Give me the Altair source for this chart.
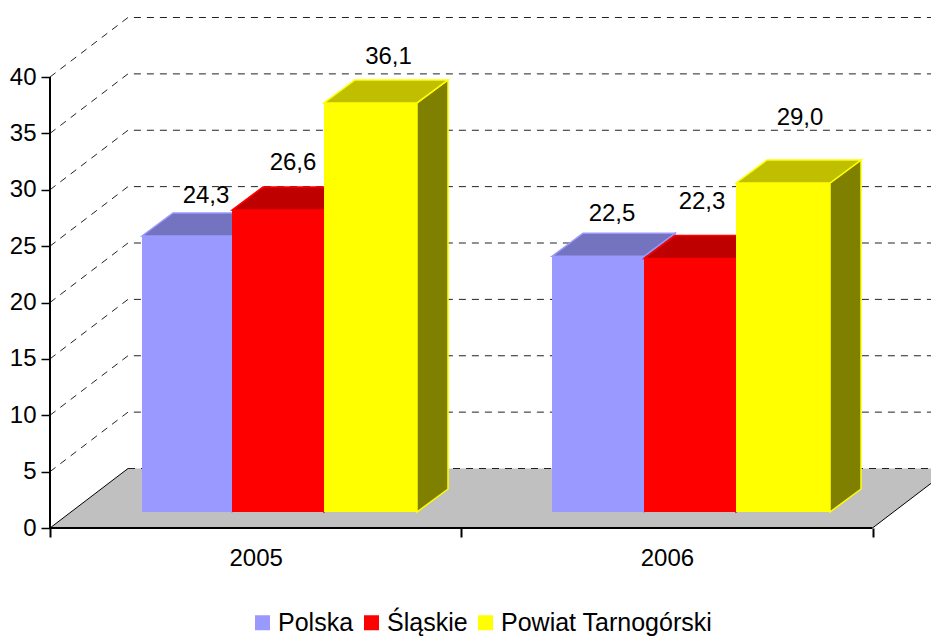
import altair as alt
import pandas as pd

FONT = "Liberation Sans"

# ---- data ----
years = ["2005", "2006"]
series = ["Polska", "Śląskie", "Powiat Tarnogórski"]
values = {
    "Polska": [24.3, 22.5],
    "Śląskie": [26.6, 22.3],
    "Powiat Tarnogórski": [36.1, 29.0],
}
y_ticks = [0, 5, 10, 15, 20, 25, 30, 35, 40]
grid_levels = [5, 10, 15, 20, 25, 30, 35, 40]

# ---- styles ----
front = {"Polska": "#9999ff", "Śląskie": "#ff0000", "Powiat Tarnogórski": "#ffff00"}
top = {"Polska": "#7373bf", "Śląskie": "#bf0000", "Powiat Tarnogórski": "#bfbf00"}
side = {"Polska": "#4d4d80", "Śląskie": "#800000", "Powiat Tarnogórski": "#808000"}
# text offsets (px) of value labels from the front-top-centre of each bar
label_dx = {"Polska": [19, 14], "Śląskie": [15, 12], "Powiat Tarnogórski": [18, 17]}
label_dy = {"Polska": [-40, -42], "Śląskie": [-47, -57], "Powiat Tarnogórski": [-46, -65]}

# ---- projection settings, in scale units ----
PX_X, PX_Y = 411.25, 11.275
W, H = 881, 520
x_scale = alt.Scale(domain=[0, W / PX_X], range=[0, W], nice=False, zero=False)
y_scale = alt.Scale(domain=[0, H / PX_Y], range=[H, 0], nice=False, zero=False)
floor_dx, floor_dy = 78 / PX_X, 59.5 / PX_Y
bar_dx, bar_dy = 31 / PX_X, 23 / PX_Y
bar_base, bar_lift = 1.42, 1.6
# left edge of each bar and right edge of the last one, per year
group_edges = [[0.2237, 0.4426, 0.6663, 0.8924], [1.2207, 1.4444, 1.6681, 1.8967]]
x_end = 2.25
color_scale = alt.Scale(domain=series, range=[front[s] for s in series])

x_axis = alt.Axis(
    values=[0, 0.5, 1, 1.5, 2], domain=False, grid=False, tickSize=9, tickWidth=2,
    tickColor="black", tickOpacity={"condition": {"test": "datum.value % 1 == 0", "value": 1}, "value": 0},
    labelExpr=f"datum.value == 0.5 ? '{years[0]}' : datum.value == 1.5 ? '{years[1]}' : ''",
    labelFont=FONT, labelFontSize=24, labelColor="black", labelPadding=9,
    labelOverlap=False, labelFlush=False, title=None)
y_axis = alt.Axis(
    values=y_ticks, domain=False, grid=False, tickSize=9, tickWidth=1.5, tickColor="black",
    labelFont=FONT, labelFontSize=24, labelColor="black", labelPadding=5, title=None, labelOverlap=False)


def X():
    return alt.X("x:Q", scale=x_scale, axis=x_axis, title=None)


def Y():
    return alt.Y("y:Q", scale=y_scale, axis=y_axis, title=None, stack=None)


def area_layer(rows, fill, stroke=None, sw=1.5):
    kw = dict(fill=fill, clip=True, interpolate="linear")
    if stroke:
        kw.update(stroke=stroke, strokeWidth=sw)
    return alt.Chart(pd.DataFrame(rows)).mark_area(**kw).encode(
        x=X(), y=Y(), y2="y2:Q", detail="id:N")


layers = []

# floor
floor_rows = [
    dict(id=0, x=0, y=0, y2=0),
    dict(id=0, x=floor_dx, y=floor_dy, y2=0),
    dict(id=0, x=2, y=floor_dy, y2=0),
    dict(id=0, x=2 + floor_dx, y=floor_dy, y2=floor_dy),
]
layers.append(area_layer(floor_rows, "#c0c0c0"))

# walls' dashed grid
grid_rows = []
for lv in grid_levels:
    grid_rows += [dict(id=lv, k=0, x=0, y=lv), dict(id=lv, k=1, x=floor_dx, y=lv + floor_dy),
                  dict(id=lv, k=2, x=x_end, y=lv + floor_dy)]
grid_rows += [dict(id=0, k=1, x=floor_dx, y=floor_dy), dict(id=0, k=2, x=x_end, y=floor_dy)]
layers.append(
    alt.Chart(pd.DataFrame(grid_rows)).mark_line(
        color="#222222", strokeWidth=1, strokeDash=[7, 6], clip=True).encode(
        x=X(), y=Y(), detail="id:N", order="k:Q"))

# floor solid edges
edge_rows = [dict(id=0, k=0, x=0, y=0), dict(id=0, k=1, x=floor_dx, y=floor_dy),
             dict(id=1, k=0, x=2, y=0), dict(id=1, k=1, x=2 + floor_dx, y=floor_dy)]
layers.append(
    alt.Chart(pd.DataFrame(edge_rows)).mark_line(color="black", strokeWidth=1, clip=True).encode(
        x=X(), y=Y(), detail="id:N", order="k:Q"))

# axis lines
layers.append(
    alt.Chart(pd.DataFrame([dict(x=0, y=0, y2=y_ticks[-1])])).mark_rule(color="black", strokeWidth=2).encode(
        x=X(), y=Y(), y2="y2:Q"))
layers.append(
    alt.Chart(pd.DataFrame([dict(x=0, x2=2, y=0)])).mark_rule(color="black", strokeWidth=2).encode(
        x=X(), x2="x2:Q", y=Y()))

# bars
label_layers = []
for si, s in enumerate(series):
    side_rows, top_rows, front_rows = [], [], []
    for gi, v in enumerate(values[s]):
        L = group_edges[gi][si]
        R = group_edges[gi][si + 1]
        t = v + bar_lift
        b = bar_base
        side_rows += [dict(id=gi, x=R, y=t, y2=b),
                      dict(id=gi, x=R + bar_dx, y=t + bar_dy, y2=b + bar_dy)]
        top_rows += [dict(id=gi, x=L, y=t, y2=t),
                     dict(id=gi, x=L + bar_dx, y=t + bar_dy, y2=t),
                     dict(id=gi, x=R, y=t + bar_dy, y2=t),
                     dict(id=gi, x=R + bar_dx, y=t + bar_dy, y2=t + bar_dy)]
        front_rows.append(dict(series=s, x=L, x2=R, y=t, y2=b))
        label_layers.append(
            alt.Chart(pd.DataFrame([dict(x=(L + R) / 2, y=t, t=f"{v:.1f}".replace(".", ","))])).mark_text(
                font=FONT, fontSize=24, color="black", align="center", baseline="middle",
                dx=label_dx[s][gi], dy=label_dy[s][gi]).encode(x=X(), y=Y(), text="t:N"))
    layers.append(area_layer(side_rows, side[s], front[s]))
    layers.append(area_layer(top_rows, top[s], front[s]))
    layers.append(
        alt.Chart(pd.DataFrame(front_rows)).mark_rect().encode(
            x=X(), x2="x2:Q", y=Y(), y2="y2:Q",
            color=alt.Color("series:N", scale=color_scale, sort=series, legend=alt.Legend(
                title=None, orient="none", legendX=200, legendY=602, direction="horizontal", columns=3,
                symbolType="square", symbolSize=225, symbolStrokeWidth=0, labelFont=FONT, labelFontSize=25,
                labelColor="black", labelOffset=3, columnPadding=5, labelLimit=400))))

chart = alt.layer(*layers, *label_layers).properties(
    width=W, height=H, background="white",
    padding={"left": 42, "top": 0, "right": 0, "bottom": 109},
    autosize=alt.AutoSizeParams(type="none"),
).configure_view(stroke=None)

chart.save("out.html", embed_options={"renderer": "svg", "actions": False})
